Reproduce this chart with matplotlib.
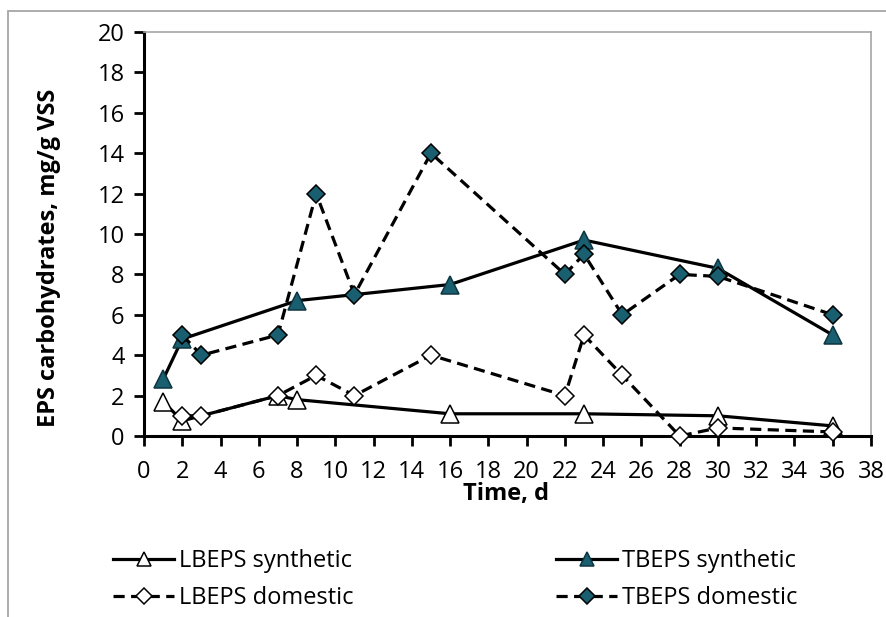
import matplotlib
matplotlib.use("Agg")
import matplotlib.pyplot as plt
from matplotlib.lines import Line2D
from matplotlib.patches import Rectangle

plt.rcParams['font.family'] = ['Open Sans', 'DejaVu Sans']

# ---- data ----
lb_syn_x = [1, 2, 7, 8, 16, 23, 30, 36]
lb_syn_y = [1.7, 0.75, 2.0, 1.8, 1.1, 1.1, 1.0, 0.5]

tb_syn_x = [1, 2, 8, 16, 23, 30, 36]
tb_syn_y = [2.8, 4.8, 6.7, 7.5, 9.7, 8.3, 5.0]

lb_dom_x = [2, 3, 7, 9, 11, 15, 22, 23, 25, 28, 30, 36]
lb_dom_y = [1.0, 1.0, 2.0, 3.0, 2.0, 4.0, 2.0, 5.0, 3.0, 0.0, 0.4, 0.2]

tb_dom_x = [2, 3, 7, 9, 11, 15, 22, 23, 25, 28, 30, 36]
tb_dom_y = [5.0, 4.0, 5.0, 12.0, 7.0, 14.0, 8.0, 9.0, 6.0, 8.0, 7.9, 6.0]

labels = ["LBEPS synthetic", "TBEPS synthetic", "LBEPS domestic", "TBEPS domestic"]
x_ticks = list(range(0, 39, 2))
y_ticks = list(range(0, 21, 2))

TEAL = '#1a5f6f'
W, H = 886, 617
FS = 17
fig = plt.figure(figsize=(W / 100, H / 100), dpi=100)
ax = fig.add_axes([144 / W, 1 - 436 / H, (871 - 144) / W, (436 - 32) / H])

lw = 2.3
dash = (0, (3.5, 2.0))
tri_ms = 12.5
dia_ms = 9.5
mew = 1.1

ax.plot(lb_syn_x, lb_syn_y, color='black', lw=lw, ls='-', marker='^', ms=tri_ms,
        mfc='white', mec='black', mew=mew, zorder=3, clip_on=False)
ax.plot(tb_syn_x, tb_syn_y, color='black', lw=lw, ls='-', marker='^', ms=tri_ms,
        mfc=TEAL, mec='#0d3540', mew=mew, zorder=4, clip_on=False)
ax.plot(lb_dom_x, lb_dom_y, color='black', lw=lw, ls=dash, marker='D', ms=dia_ms,
        mfc='white', mec='black', mew=mew, zorder=5, clip_on=False)
ax.plot(tb_dom_x, tb_dom_y, color='black', lw=lw, ls=dash, marker='D', ms=dia_ms,
        mfc=TEAL, mec='black', mew=mew, zorder=6, clip_on=False)

ax.set_xlim(0, 38)
ax.set_ylim(0, 20)
ax.set_xticks(x_ticks)
ax.set_yticks(y_ticks)
ax.tick_params(axis='both', direction='out', length=7, width=2, labelsize=FS,
               colors='black')
ax.tick_params(axis='x', pad=10)
ax.tick_params(axis='y', pad=7)

for s in ['left', 'bottom']:
    ax.spines[s].set_linewidth(2.2)
    ax.spines[s].set_color('black')
for s in ['top', 'right']:
    ax.spines[s].set_linewidth(1.2)
    ax.spines[s].set_color('#a6a6a6')

ax.set_xlabel("Time, d", fontsize=FS, fontweight='bold')
ax.set_ylabel("EPS carbohydrates, mg/g VSS", fontsize=FS, fontweight='bold')
ax.xaxis.set_label_coords((506 - 144) / 727, -(494 - 436) / 404)
ax.yaxis.set_label_coords((49 - 144) / 727, (436 - 258) / 404)
ax.xaxis.label.set_va('center')
ax.yaxis.label.set_va('center')

# outer chart border
fig.patches.append(Rectangle((8 / W, -0.05), 1.2, 1 - 11 / H + 0.05,
                             transform=fig.transFigure, fill=False,
                             edgecolor='#a6a6a6', lw=1.3, zorder=0))

def handle(ls, marker, ms, fc, ec):
    return Line2D([], [], color='black', lw=lw, ls=ls, marker=marker, ms=ms,
                  mfc=fc, mec=ec, mew=mew)

h = [handle('-', '^', tri_ms * 0.85, 'white', 'black'),
     handle('-', '^', tri_ms * 0.85, TEAL, '#0d3540'),
     handle(dash, 'D', dia_ms * 0.85, 'white', 'black'),
     handle(dash, 'D', dia_ms * 0.85, TEAL, 'black')]

leg_kw = dict(frameon=False, fontsize=FS, handlelength=2.6, handletextpad=0.18,
              labelspacing=0.55, borderpad=0, borderaxespad=0, loc='upper left')
l1 = fig.legend([h[0], h[2]], [labels[0], labels[2]],
                bbox_to_anchor=(113 / W, 1 - 549 / H), **leg_kw)
l2 = fig.legend([h[1], h[3]], [labels[1], labels[3]],
                bbox_to_anchor=(556 / W, 1 - 549 / H), **leg_kw)

fig.savefig("out.png", dpi=100)
